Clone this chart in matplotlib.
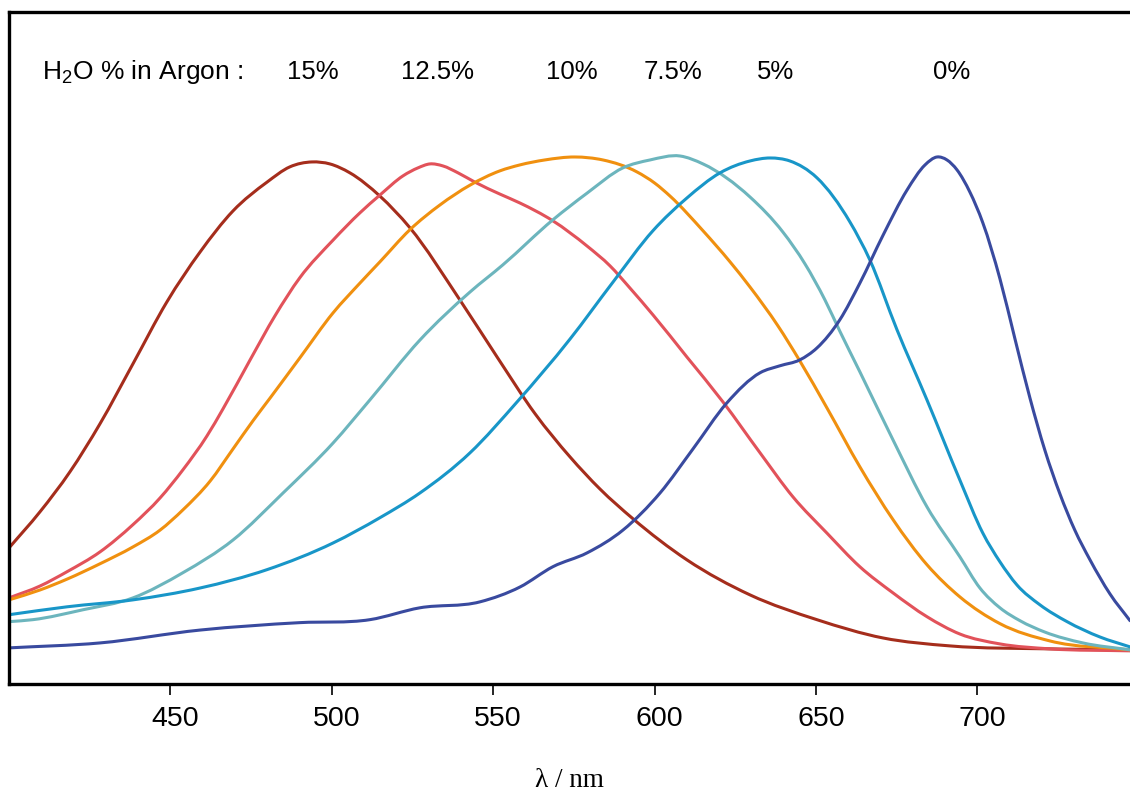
import matplotlib
matplotlib.use("Agg")
import matplotlib.pyplot as plt
import matplotlib.transforms as mtransforms
import numpy as np
from matplotlib.path import Path
from matplotlib.patches import PathPatch

plt.rcParams["font.family"] = ["Liberation Sans", "DejaVu Sans"]
plt.rcParams["mathtext.fontset"] = "custom"
plt.rcParams["mathtext.rm"] = "Liberation Sans"
plt.rcParams["mathtext.it"] = "Liberation Sans:italic"

# Emission spectra (normalised intensity, a.u.) for different H2O content in Argon
wl_15 = [400.0, 409.6, 418.9, 428.2, 438.4, 448.9, 459.2, 469.4, 479.9, 487.0,
         493.9, 499.4, 505.6, 514.9, 524.2, 539.7, 551.2, 563.0, 573.8, 583.1,
         593.3, 610.0, 629.6, 650.3, 670.8, 691.5, 722.5, 747.3]
int_15 = [21.0, 28.3, 36.4, 46.1, 58.2, 70.7, 80.8, 89.1, 94.9, 98.0,
          99.0, 98.6, 96.8, 92.1, 85.7, 71.1, 59.6, 48.1, 39.4, 32.9,
          26.9, 18.6, 11.5, 6.5, 2.8, 1.2, 0.6, 0.4]

wl_125 = [400.0, 409.6, 418.0, 428.2, 438.4, 446.8, 453.9, 461.3, 466.3, 474.7,
          482.4, 490.1, 500.4, 508.7, 514.9, 522.1, 526.7, 530.4, 534.4, 539.1,
          544.4, 552.1, 558.3, 568.5, 579.1, 586.2, 592.4, 599.5, 610.0, 621.2,
          632.7, 642.9, 653.4, 663.6, 673.9, 684.4, 694.6, 707.0, 722.5, 747.3]
int_125 = [10.9, 13.3, 16.2, 20.2, 25.7, 31.1, 36.8, 43.6, 49.1, 59.0,
           67.9, 75.6, 83.2, 88.7, 92.3, 96.2, 97.8, 98.6, 98.2, 96.8,
           94.9, 92.5, 90.7, 87.1, 82.0, 78.0, 73.5, 68.1, 59.6, 50.5,
           40.2, 31.3, 24.0, 17.2, 11.9, 7.1, 3.6, 1.6, 0.6, 0.2]

wl_10 = [400.0, 409.6, 418.0, 428.2, 438.4, 446.8, 453.9, 462.3, 469.4, 475.6,
         480.9, 490.1, 500.4, 508.7, 514.9, 524.2, 533.5, 542.8, 552.1, 558.3,
         566.0, 575.3, 584.0, 594.5, 600.1, 604.8, 615.0, 623.4, 629.6, 638.2,
         645.0, 653.4, 663.6, 673.9, 684.4, 694.6, 707.0, 722.5, 747.3]
int_10 = [10.5, 12.5, 14.7, 17.8, 21.2, 24.6, 28.7, 34.5, 41.0, 46.7,
          51.3, 59.4, 68.5, 74.5, 78.8, 85.3, 90.3, 94.3, 97.2, 98.4,
          99.4, 100.0, 99.4, 97.0, 94.7, 92.1, 85.1, 78.8, 73.7, 65.9,
          58.8, 49.3, 37.4, 26.7, 17.6, 11.1, 5.7, 2.2, 0.4]

wl_75 = [400.0, 407.4, 422.9, 438.4, 453.9, 469.4, 484.9, 500.4, 511.8, 527.3,
         542.8, 553.0, 568.5, 579.1, 590.2, 598.6, 607.9, 615.0, 629.6, 639.8,
         646.6, 652.8, 657.4, 663.6, 673.9, 684.4, 694.6, 700.8, 707.0, 713.2,
         720.9, 732.7, 747.3]
int_75 = [6.1, 6.5, 8.5, 10.9, 16.0, 22.6, 32.1, 42.2, 50.9, 63.0,
          72.7, 78.2, 87.3, 92.7, 97.8, 99.4, 100.2, 98.6, 91.9, 84.8,
          78.4, 71.1, 64.8, 56.6, 42.8, 29.3, 19.2, 12.9, 8.9, 6.3,
          4.0, 1.8, 0.4]

wl_5 = [400.0, 418.0, 438.4, 459.2, 479.9, 500.4, 514.9, 527.3, 542.8, 557.4,
        573.8, 587.1, 599.5, 610.0, 620.3, 629.6, 635.8, 641.9, 650.3, 660.5,
        666.7, 675.1, 684.4, 694.6, 701.7, 707.0, 712.3, 719.4, 727.8, 738.0,
        747.3]
int_5 = [7.5, 9.1, 10.5, 12.9, 16.6, 22.0, 27.1, 32.1, 40.2, 50.5,
         63.2, 74.7, 85.1, 91.7, 96.8, 99.2, 99.8, 99.2, 95.8, 86.9,
         79.2, 65.1, 50.9, 34.7, 24.0, 18.2, 13.5, 9.5, 6.1, 3.0,
         1.0]

wl_0 = [400.0, 428.2, 459.2, 490.1, 511.8, 527.3, 545.9, 558.3, 568.5, 579.1,
        590.2, 601.7, 611.9, 622.4, 632.7, 638.8, 645.0, 650.3, 657.4, 663.6,
        670.8, 678.2, 683.8, 687.5, 690.6, 693.7, 697.7, 701.7, 707.0, 711.6,
        716.3, 720.9, 725.6, 730.2, 734.9, 741.1, 747.3]
int_0 = [0.8, 1.8, 4.4, 5.9, 6.5, 8.9, 10.1, 13.1, 17.2, 20.0,
         24.6, 32.1, 41.0, 50.3, 56.4, 57.8, 59.0, 61.4, 67.1, 74.5,
         84.2, 93.3, 98.4, 100.0, 99.4, 97.4, 92.9, 86.7, 75.4, 63.4,
         51.3, 40.8, 31.9, 24.6, 18.6, 11.7, 6.3]

series = [
    ("15%", wl_15, int_15, "#a52d1c"),
    ("12.5%", wl_125, int_125, "#e2525a"),
    ("10%", wl_10, int_10, "#f0900f"),
    ("7.5%", wl_75, int_75, "#6cb5bd"),
    ("5%", wl_5, int_5, "#1896c8"),
    ("0%", wl_0, int_0, "#394a9f"),
]

# Concentration labels placed above each band maximum
label_text = ["15%", "12.5%", "10%", "7.5%", "5%", "0%"]
label_wl = [494.2, 532.9, 574.4, 605.7, 637.6, 692.1]
label_y = 117.2


def smooth_path(x, y):
    """Cubic Bezier path through the points (three-point tangents)."""
    x = np.asarray(x, float)
    y = np.asarray(y, float)
    h = np.diff(x)
    d = np.diff(y) / h
    m = np.empty_like(y)
    m[0], m[-1] = d[0], d[-1]
    m[1:-1] = (d[:-1] * h[1:] + d[1:] * h[:-1]) / (h[:-1] + h[1:])
    verts = [(x[0], y[0])]
    codes = [Path.MOVETO]
    for i in range(len(x) - 1):
        verts += [(x[i] + h[i] / 3, y[i] + m[i] * h[i] / 3),
                  (x[i + 1] - h[i] / 3, y[i + 1] - m[i + 1] * h[i] / 3),
                  (x[i + 1], y[i + 1])]
        codes += [Path.CURVE4] * 3
    return Path(verts, codes)


fig = plt.figure(figsize=(11.3, 7.93), dpi=100)
ax = fig.add_axes([9 / 1130, 109 / 793, 1 - 9 / 1130, 672 / 793])

for name, wl, inten, color in series:
    ax.add_patch(PathPatch(smooth_path(wl, inten), facecolor="none",
                           edgecolor=color, lw=2.2, capstyle="round",
                           joinstyle="round", label=name))

ax.set_xlim(400, 747.3)
ax.set_ylim(-6.5, 129.3)

ax.text(410.3, label_y, r"H$_\mathrm{2}$O % in Argon :", fontsize=19,
        ha="left", va="center")
for t, x in zip(label_text, label_wl):
    ax.text(x, label_y, t, fontsize=18.5, ha="center", va="center")

ax.set_xticks([450, 500, 550, 600, 650, 700])
ax.set_yticks([])
ax.tick_params(axis="x", direction="out", length=8, width=1.2, pad=8,
               labelsize=20.5)
shift = mtransforms.ScaledTranslation(5 / 100, 0, fig.dpi_scale_trans)
for lab in ax.get_xticklabels():
    lab.set_transform(lab.get_transform() + shift)

for side in ("left", "top", "bottom"):
    ax.spines[side].set_linewidth(2.4)
ax.spines["right"].set_visible(False)

ax.set_xlabel("λ / nm", family=["Liberation Serif", "DejaVu Serif"],
              fontsize=19.5, labelpad=26)

fig.savefig("out.png", dpi=100)
